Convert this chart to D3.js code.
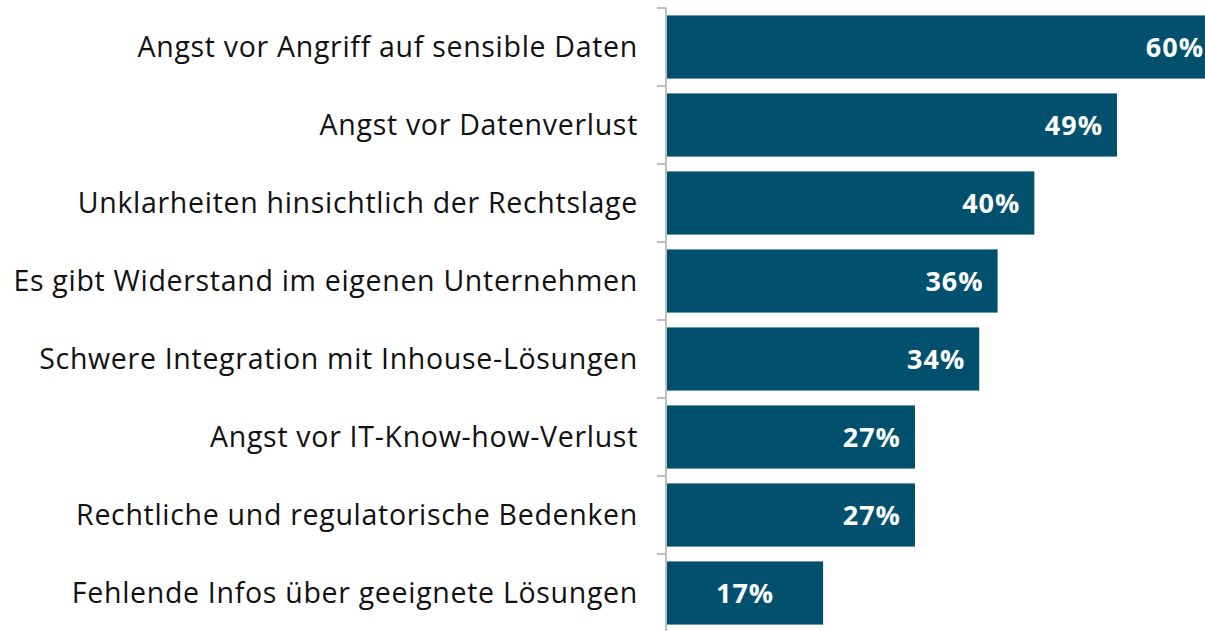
<!DOCTYPE html>
<html>
<head>
<meta charset="utf-8">
<script src="https://cdn.jsdelivr.net/npm/d3@7"></script>
<style>
  body { margin: 0; background: #fff; }
  svg { display: block; }
</style>
</head>
<body>
<script>
// categories and values
var categories = [
  "Angst vor Angriff auf sensible Daten",
  "Angst vor Datenverlust",
  "Unklarheiten hinsichtlich der Rechtslage",
  "Es gibt Widerstand im eigenen Unternehmen",
  "Schwere Integration mit Inhouse-Lösungen",
  "Angst vor IT-Know-how-Verlust",
  "Rechtliche und regulatorische Bedenken",
  "Fehlende Infos über geeignete Lösungen"
];
var values = [60, 49, 40, 36, 34, 27, 27, 17];

var width = 1205;
var height = 631;
var axisX = 666;
var fontFam = "'Open Sans', 'Noto Sans', sans-serif";

var svg = d3.select("body")
  .append("svg")
  .attr("width", width)
  .attr("height", height);

var xScale = d3.scaleLinear()
  .domain([0, 60])
  .range([axisX + 1, 1218]);

var yScale = d3.scaleBand()
  .domain(categories)
  .range([8, 632])
  .paddingInner(0.19)
  .paddingOuter(0.095);

// bars
svg.selectAll("rect.bar")
  .data(values)
  .enter()
  .append("rect")
  .attr("class", "bar")
  .attr("x", xScale(0))
  .attr("y", function(d, i) { return yScale(categories[i]); })
  .attr("width", function(d) { return xScale(d) - xScale(0); })
  .attr("height", yScale.bandwidth())
  .attr("fill", "#00506E");

// value labels (inside end, small bar centred)
svg.selectAll("text.val")
  .data(values)
  .enter()
  .append("text")
  .attr("class", "val")
  .attr("x", function(d) { return d < 20 ? (xScale(0) + xScale(d)) / 2 : xScale(d) - 14; })
  .attr("y", function(d, i) { return yScale(categories[i]) + yScale.bandwidth() / 2; })
  .attr("dy", "0.36em")
  .attr("text-anchor", function(d) { return d < 20 ? "middle" : "end"; })
  .attr("font-family", fontFam)
  .attr("font-weight", "bold")
  .attr("font-size", "27px")
  .attr("letter-spacing", "1px")
  .attr("fill", "#ffffff")
  .text(function(d) { return d + "%"; });

// category axis: line + ticks between bands
var bounds = categories.map(function(c) { return yScale(c) - yScale.step() * yScale.paddingInner() / 2; });
bounds.push(632);

svg.append("line")
  .attr("x1", axisX).attr("x2", axisX)
  .attr("y1", bounds[0]).attr("y2", height)
  .attr("stroke", "#BFBFBF")
  .attr("stroke-width", 2);

svg.selectAll("line.tick")
  .data(bounds)
  .enter()
  .append("line")
  .attr("class", "tick")
  .attr("x1", axisX - 9).attr("x2", axisX)
  .attr("y1", function(d) { return d; }).attr("y2", function(d) { return d; })
  .attr("stroke", "#BFBFBF")
  .attr("stroke-width", 2);

// category labels
var labels = svg.selectAll("text.cat")
  .data(categories)
  .enter()
  .append("text")
  .attr("class", "cat")
  .attr("x", 638)
  .attr("y", function(d) { return yScale(d) + yScale.bandwidth() / 2; })
  .attr("dy", "0.36em")
  .attr("text-anchor", "end")
  .attr("font-family", fontFam)
  .attr("font-size", "28.5px")
  .attr("letter-spacing", "0.7px")
  .attr("fill", "#111111")
  .text(function(d) { return d; });
</script>
</body>
</html>
